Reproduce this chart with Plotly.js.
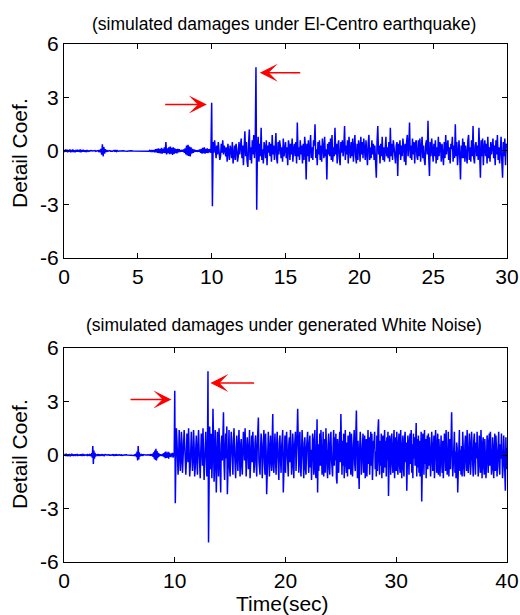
<!DOCTYPE html>
<html>
<head>
<meta charset="utf-8">
<script src="https://cdn.plot.ly/plotly-3.0.1.min.js"></script>
<style>html,body{margin:0;padding:0;background:#fff;}#chart{width:520px;height:615px;}</style>
</head>
<body>
<div id="chart"></div>
<script>
// ---------- DATA ----------
const dtTop = 0.05;   // sampling step (s), top record
const dtBot = 0.05;   // sampling step (s), bottom record

// El-Centro case, 0-10 s (before damage)
const topQuiet = [
.03,-.06,.08,-.05,.07,-.08,.06,-.04,.09,-.07,.05,-.06,.08,-.05,.04,-.07,.06,-.05,.07,-.04,
.05,-.06,.08,-.07,.06,-.05,.07,-.04,.03,-.05,.04,-.03,.02,-.02,.01,-.01,.02,-.01,.01,0,
.01,-.01,.02,-.02,.01,-.01,.02,-.03,.05,-.08,.12,-.2,.38,-.3,.22,-.15,.1,-.06,.04,-.02,
.01,-.01,.02,-.01,.01,0,-.01,.01,.03,-.04,.05,-.03,.02,-.01,.01,0,0,.01,-.01,0,
0,.01,0,-.01,0,.01,-.01,0,.01,0,-.01,0,.01,0,0,-.01,.01,0,0,.01,
0,-.01,.01,0,-.01,.01,0,.01,-.01,0,.01,-.02,.02,-.01,.01,-.02,.03,-.02,.02,-.03,
.04,-.05,.06,-.08,.1,-.07,.12,-.1,.15,-.12,.1,-.14,.18,-.15,.12,-.1,.2,-.12,.5,-.2,
.15,-.12,.2,-.18,.25,-.15,.18,-.22,.2,-.16,.15,-.12,.1,-.14,.12,-.08,.1,-.06,.05,-.04,
.06,-.05,.08,-.1,.15,-.2,.3,-.25,.35,-.28,.25,-.3,.2,-.15,.12,-.1,.08,-.06,.05,-.04,
.03,-.05,.06,-.04,.08,-.1,.12,-.15,.18,-.12,.2,-.15,.12,-.1,.15,-.12,.1,-.08,.12,-.1
];
// El-Centro case, 10-30 s (damage at 10 s and 13 s)
const topActive = [
2.7,-3.1,.5,-.1,.6,.2,-.4,.3,-.2,.5,.1,-.5,-.3,.4,-.1,.6,-.2,.3,.1,-.3,
.2,-.6,.4,-.2,-.5,.3,.1,-.4,.5,-.7,-.2,.3,-.5,.4,.1,-.6,-.3,.5,-.2,.2,
.7,-.4,.3,-.8,.1,1.1,-.3,.5,-.6,-.9,.4,1.2,-.5,.2,-.7,.6,-.2,.9,-.4,.3,
4.7,-3.3,.2,.8,-.6,.4,-.3,1.3,-.5,.1,-.7,.5,.2,-.4,.6,-.8,.3,-.1,.5,-.3,
.4,-.6,.9,-.2,.3,-.5,.1,1.0,-.4,-.7,.5,-.2,.6,.3,-.4,.2,-.6,.7,-.3,.1,
.5,-.4,.2,-.8,.6,.3,-.5,.4,-.2,.7,-.6,.1,.4,-.3,.5,-.7,1.6,-.3,.2,-.5,
.6,-.2,.3,-.7,.4,-.5,.8,.2,-1.6,.4,-.3,.6,-.6,.1,.9,-.4,.2,-.5,.6,.3,
1.5,-.4,.1,-.8,.5,-.2,.6,-.5,.3,-.6,.7,.2,-.4,.8,-.3,.1,-1.6,.4,-.2,.5,
-.3,.7,-.5,.9,-.6,.2,-.3,1.3,-.2,.4,-.7,.3,.6,-.4,-.8,.5,-.1,.6,-.3,.2,
1.4,-.5,.3,-.2,.6,-.7,.8,.1,-.4,.5,-.3,.7,-.6,.2,.9,-.3,-.7,.4,-.5,.6,
.3,-.6,.8,-.2,.5,-.4,.7,.1,-.5,.6,-.3,-.8,.4,.9,-.5,.2,-.4,.6,-.2,.4,
-.5,.3,-.6,-1.5,.5,1.4,-.2,.3,-.7,.4,-.3,.8,-.5,.2,-.6,.5,.8,-.3,.2,-.4,
.5,-.6,1.3,-.3,.4,-.5,.6,.2,-.4,-.7,.3,.5,-1.4,.4,-.2,.6,-.5,.3,-.3,.7,
.2,-.6,.4,-.8,.5,.9,-.3,.2,1.6,-.4,.3,-.5,.7,-.2,.5,-.7,.4,.6,-.3,-.5,
.6,-.3,.7,-.6,.2,.8,-.4,.3,-.5,-.8,.4,.6,-.2,1.7,-.4,-1.4,.5,-.3,.7,-.4,
-.6,.4,-.3,.6,-.7,.2,-.5,.8,-.3,.5,.3,-.6,.4,-.2,-.8,.5,-.4,.9,-.2,.3,
.6,-.5,.2,-.7,.4,.1,.8,-.6,.3,-.4,1.5,-.3,.5,-.8,.4,.6,-.3,-1.6,.3,-.4,
.7,-.4,.5,-.6,.3,-.2,-.7,.6,.9,-.5,.2,-.6,.6,-.3,1.4,-.4,-.7,.3,.5,-.3,
.3,-.5,1.3,-.2,-1.5,.6,-.3,.7,-.8,.2,.6,-.3,.4,-.7,.8,-.4,.2,-.6,.5,-.2,
.6,.7,-.4,.3,-.8,.6,-.2,.9,-.5,.2,-.7,.4,.8,-.6,-1.5,.5,-.3,.7,-.8,.4,
.3
];

// White-noise case, 0-10 s
const botQuiet = [
.02,-.04,.06,-.05,.08,-.06,.04,-.07,.05,-.03,.06,-.08,.04,-.05,.07,-.04,.05,-.06,.03,-.04,
.05,-.06,.04,-.03,.06,-.05,.03,-.04,.02,-.03,.04,-.02,.01,-.02,.03,-.01,.02,-.02,.01,0,
.01,-.01,.02,-.02,.03,-.03,.02,-.02,.04,-.06,.1,-.15,.5,-.5,.25,-.2,.12,-.08,.05,-.03,
.04,-.05,.06,-.04,.05,-.06,.03,-.04,.05,-.03,.04,-.05,.03,-.02,.02,-.01,.01,0,.01,-.01,
0,.01,-.01,.01,0,-.01,.01,0,.02,-.03,.04,-.05,.03,-.04,.05,-.03,.02,-.04,.03,-.02,
.04,-.03,.02,-.04,.03,-.02,.01,-.01,0,.01,0,-.01,0,.01,0,0,-.01,.01,0,0,
0,.01,-.01,0,.01,-.01,.02,-.02,.03,-.05,.08,-.12,.2,-.3,.5,-.25,.15,-.08,.05,-.03,
.02,-.02,.01,-.01,.02,-.01,.01,0,-.01,.01,0,.01,-.01,0,.01,-.01,.02,-.03,.04,-.05,
.07,-.1,.15,-.2,.25,-.28,.35,-.3,.22,-.18,.12,-.1,.08,-.06,.05,-.04,.03,-.05,.06,-.08,
.1,-.12,.15,-.18,.2,-.16,.12,-.15,.18,-.2,.14,-.1,.08,-.12,.1,-.08,.12,-.15,.1,-.08
];
// White-noise case, 10-40 s (damage at 10 s and 13 s)
const botActive = [
3.6,-2.7,-.3,1.5,.8,-.6,-1.1,-.2,1.4,.5,-.9,-.4,1.3,.7,-1.0,-.5,.6,1.4,.3,-.8,
-1.1,-.3,1.2,.6,-.4,1.5,.2,-1.2,-.6,.8,1.3,.1,-.9,-.3,1.4,.5,-1.2,-.7,.4,1.1,
-.4,-1.1,.5,1.4,.3,-.9,-1.3,.2,1.2,.6,-.6,1.5,-.2,-1.4,-.5,.9,1.3,.1,-1.2,-.3,
4.7,-4.9,-1.9,1.6,.4,-.8,1.2,-1.3,-.2,2.6,.9,-1.5,-.6,1.4,.3,-2.1,-.7,1.3,.5,-1.2,
1.5,.2,-.9,-2.1,.6,1.1,-.3,1.3,2.4,-.5,-1.4,.3,1.2,-.2,1.6,-2.2,-.4,1.1,1.4,-.7,
-1.2,.3,1.3,.6,-.5,-1.1,.8,1.5,.2,-.7,-1.3,.4,1.1,-.2,-.9,.6,1.4,-.1,-1.2,.5,
.9,-.6,-1.1,.3,1.3,.5,-.3,1.5,-.9,-1.2,.2,1.0,.4,-.8,-.2,1.4,-1.3,-.5,.7,1.1,
-.4,1.3,.3,-1.0,-.6,.7,1.1,-.4,-1.2,.5,1.4,2.1,-.3,-.9,-1.1,.4,1.2,.6,-1.3,-.2,
.6,1.4,-.5,-1.1,1.2,.3,-2.2,-.4,.9,1.3,-.2,-1.2,.5,1.1,-.4,-.9,.8,2.3,-.6,-1.0,
.4,1.2,-.3,-1.1,.5,1.3,.2,-.9,-1.4,.7,1.1,-.2,-1.0,.4,1.2,1.4,-2.1,-.5,.8,1.1,
-1.0,-.3,1.3,.4,-.9,-1.2,.6,1.0,-.4,1.4,.2,-1.1,-.6,1.2,.5,-1.3,.3,1.1,1.3,-.9,
-.2,1.2,2.6,-.4,-1.0,.8,1.3,-.6,-1.2,.2,1.4,.5,-.5,-1.3,.7,1.0,-.8,-1.1,.4,.9,
1.3,-.3,-1.0,.6,1.1,-.7,.3,-1.4,-.2,1.2,.8,-1.1,.4,1.4,-.9,-1.3,.2,2.0,-2.1,.6,
-.9,.4,1.2,-.6,1.4,.3,-1.1,-.4,1.3,-1.2,.2,.9,-1.0,1.5,.3,-.8,-1.3,.6,1.2,-.7,
-1.1,.7,1.3,-.2,-.9,-1.2,.5,1.4,-.6,1.0,-.3,1.2,-1.3,-1.6,.9,.2,-1.0,.6,1.3,-.4,
2.3,.4,-1.1,.8,-.6,1.2,-1.3,.3,1.4,-.5,-1.0,.7,-1.2,1.1,.2,-.8,1.3,-.6,-1.1,1.2,
.6,-1.2,-.3,1.0,1.4,-.5,-.9,1.1,2.5,.2,-1.3,.8,-.7,-1.9,.4,1.3,.6,-1.1,-.3,.7,
1.2,-1.0,-.2,1.1,-1.3,.6,.9,-1.2,-.3,1.4,-.5,1.0,-1.1,.3,1.3,-.6,1.2,-1.4,-.4,.8,
.7,1.3,-.8,.2,-1.2,1.1,-.9,1.4,2.0,-.4,-1.1,.8,-.6,1.2,-1.3,.5,1.1,-1.0,.3,1.4,
-.7,.8,-1.2,1.0,-.3,1.3,-2.3,-.6,1.1,.4,-1.1,.9,1.2,-.5,-1.0,.6,1.4,-1.3,.2,1.0,
-.9,1.3,-.4,-1.1,.7,1.2,-.6,-1.0,1.4,.3,-1.3,.5,1.1,-.8,-1.2,.9,1.3,-.4,.7,-2.0,
-.3,1.1,.4,-1.1,.8,1.2,-.5,1.4,-1.0,.6,-1.3,1.2,-.2,1.0,-.6,1.3,1.8,-1.2,.9,-.7,
1.1,-1.0,.8,-1.2,.2,1.3,-2.6,-.5,1.2,.7,-1.1,1.4,-.5,.9,-1.3,.3,1.1,-.8,1.2,-.6,
1.0,.3,-1.2,-.4,1.3,.6,-.9,-.2,1.1,-1.3,-.4,1.4,.8,-1.0,-.3,1.2,-1.1,.9,.2,-1.2,
.7,1.1,-.4,-1.0,.8,-1.3,-.2,1.2,.5,-.9,1.4,.3,-1.1,-.6,1.3,-1.2,.4,.9,-.8,1.2,
2.4,.3,-1.2,-.5,.9,1.3,-1.0,.2,-1.3,.7,.4,-2.1,-.4,1.2,1.4,-.9,.3,-1.1,.5,-1.2,
1.3,.4,-.8,-1.2,.6,1.1,-.3,-.9,1.4,.2,-1.0,-.4,1.2,.7,-1.1,-.5,1.3,.3,-.7,-1.2,
.8,1.2,-.3,-1.1,.7,-.2,1.3,.4,-1.2,-.6,1.1,.2,-1.0,1.4,-.3,-1.3,.6,1.0,-.7,-1.1,
.9,.2,-1.3,-.5,1.1,.8,-1.0,-.3,1.2,-.6,1.3,.1,-1.1,-.8,1.0,.4,-1.3,-.2,1.2,-.9,
1.1,.3,-1.2,-.4,1.0,1.3,-.7,-1.1,.6,-.2,1.2,.3,-1.3,-.6,1.1,.2,-1.9,-2.0,1.0,-.8,
.4
];

// Damage markers (arrows): [tail x, head x, y]
const topArrows = [[6.75, 9.67, 2.6], [16.1, 13.26, 4.39]];
const botArrows = [[5.87, 9.7, 3.12], [17.3, 13.22, 4.04]];

const topTitle = '(simulated damages under El-Centro earthquake)';
const botTitle = '(simulated damages under generated White Noise)';
const yLabel = 'Detail Coef.';
const xLabel = 'Time(sec)';
const topXTicks = [0, 5, 10, 15, 20, 25, 30];
const botXTicks = [0, 10, 20, 30, 40];
const yTicks = [-6, -3, 0, 3, 6];
const yTickText = ['-6', '-3', '0', '3', '6'];

// ---------- BUILD ----------
const topY = topQuiet.concat(topActive);
const botY = botQuiet.concat(botActive);
const topX = topY.map((_, i) => +(i * dtTop).toFixed(3));
const botX = botY.map((_, i) => +(i * dtBot).toFixed(3));

const FONT = 'Liberation Sans, Arial, sans-serif';
const lineStyle = {color: '#0000ff', width: 1.5};

const traces = [
  {x: topX, y: topY, type: 'scatter', mode: 'lines', line: lineStyle, xaxis: 'x', yaxis: 'y', hoverinfo: 'skip'},
  {x: botX, y: botY, type: 'scatter', mode: 'lines', line: lineStyle, xaxis: 'x2', yaxis: 'y2', hoverinfo: 'skip'}
];

function axisBase(extra) {
  return Object.assign({
    showline: true, linecolor: '#000', linewidth: 1, mirror: 'allticks',
    ticks: 'inside', ticklen: 5, tickwidth: 1, tickcolor: '#000',
    showgrid: false, zeroline: false,
    tickfont: {family: FONT, size: 21, color: '#000'}
  }, extra);
}

function arrowAnn(a, xref, yref) {
  return {
    x: a[1], y: a[2], ax: a[0], ay: a[2], xref: xref, yref: yref, axref: xref, ayref: yref,
    text: '', showarrow: true, arrowhead: 3, arrowsize: 2, arrowwidth: 1.5, arrowcolor: '#ff0000'
  };
}

const annotations = [
  {text: topTitle, xref: 'paper', yref: 'paper', x: 0.4966, y: 1.0386, xanchor: 'center', yanchor: 'middle', showarrow: false, font: {family: FONT, size: 17.5, color: '#000'}},
  {text: botTitle, xref: 'paper', yref: 'paper', x: 0.4966, y: 0.4575, xanchor: 'center', yanchor: 'middle', showarrow: false, font: {family: FONT, size: 17.5, color: '#000'}},
  {text: yLabel, xref: 'paper', yref: 'paper', x: -0.0993, y: 0.7896, xanchor: 'center', yanchor: 'middle', textangle: -90, showarrow: false, font: {family: FONT, size: 21, color: '#000'}},
  {text: yLabel, xref: 'paper', yref: 'paper', x: -0.0993, y: 0.2085, xanchor: 'center', yanchor: 'middle', textangle: -90, showarrow: false, font: {family: FONT, size: 21, color: '#000'}},
  {text: xLabel, xref: 'paper', yref: 'paper', x: 0.4932, y: -0.0792, xanchor: 'center', yanchor: 'middle', showarrow: false, font: {family: FONT, size: 21, color: '#000'}}
].concat(topArrows.map(a => arrowAnn(a, 'x', 'y')), botArrows.map(a => arrowAnn(a, 'x2', 'y2')));

const layout = {
  width: 520, height: 615,
  margin: {l: 64, r: 13, t: 44, b: 53},
  paper_bgcolor: '#fff', plot_bgcolor: '#fff',
  showlegend: false,
  font: {family: FONT, color: '#000'},
  xaxis: axisBase({domain: [0, 1], range: [0, 30], tickvals: topXTicks, anchor: 'y'}),
  yaxis: axisBase({domain: [0.587, 1], range: [-6, 6], tickvals: yTicks, ticktext: yTickText, anchor: 'x'}),
  xaxis2: axisBase({domain: [0, 1], range: [0, 40], tickvals: botXTicks, anchor: 'y2'}),
  yaxis2: axisBase({domain: [0, 0.413], range: [-6, 6], tickvals: yTicks, ticktext: yTickText, anchor: 'x2'}),
  annotations: annotations
};

Plotly.newPlot('chart', traces, layout, {staticPlot: true, displayModeBar: false});
</script>
</body>
</html>
